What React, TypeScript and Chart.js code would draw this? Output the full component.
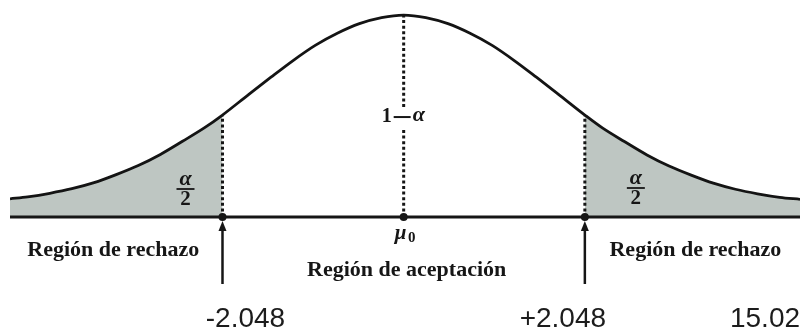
import React, { useEffect, useRef } from "react";
import { Chart, registerables } from "chart.js";

Chart.register(...registerables);

// t values (x) and curve heights (density-like)
const tValues = [
  -4.45, -4.25, -4.0, -3.75, -3.5, -3.25, -3.0, -2.75, -2.5, -2.25, -2.048,
  -1.75, -1.5, -1.25, -1.0, -0.75, -0.5, -0.25, 0, 0.25, 0.5, 0.75, 1.0, 1.25,
  1.5, 1.75, 2.048, 2.25, 2.5, 2.75, 3.0, 3.25, 3.5, 3.75, 4.0, 4.25, 4.48,
];
const densityValues = [
  0.036, 0.04, 0.047, 0.056, 0.068, 0.084, 0.102, 0.124, 0.15, 0.177, 0.202,
  0.243, 0.277, 0.31, 0.34, 0.364, 0.383, 0.395, 0.4, 0.395, 0.383, 0.364,
  0.34, 0.31, 0.277, 0.243, 0.202, 0.176, 0.149, 0.123, 0.101, 0.083, 0.067,
  0.055, 0.046, 0.039, 0.035,
];
const criticalLow = -2.048;
const criticalHigh = 2.048;
const meanValue = 0;
const tickLabels = ["-2.048", "+2.048", "15.02"];
const regionLabels = ["Región de rechazo", "Región de aceptación", "Región de rechazo"];

const points = tValues.map((t, i) => ({ x: t, y: densityValues[i] }));
const leftTail = points.filter((p) => p.x <= criticalLow);
const rightTail = points.filter((p) => p.x >= criticalHigh);

const valueAt = (t: number) => densityValues[tValues.indexOf(t)];

const SERIF = '"Liberation Serif", "DejaVu Serif", serif';
const SANS = '"Liberation Sans", Arial, sans-serif';
const INK = "#161616";

const overlayPlugin = {
  id: "overlay",
  afterDatasetsDraw(chart: any) {
    const { ctx, chartArea } = chart;
    const xs = chart.scales.x;
    const ys = chart.scales.y;
    const y0 = ys.getPixelForValue(0);
    const xL = xs.getPixelForValue(criticalLow);
    const xR = xs.getPixelForValue(criticalHigh);
    const xC = xs.getPixelForValue(meanValue);
    ctx.save();
    ctx.strokeStyle = INK;
    ctx.fillStyle = INK;

    // dotted verticals
    const dotted = (x: number, yTop: number, yBot: number) => {
      ctx.save();
      ctx.setLineDash([3, 2.6]);
      ctx.lineWidth = 3;
      ctx.beginPath();
      ctx.moveTo(x, yBot);
      ctx.lineTo(x, yTop);
      ctx.stroke();
      ctx.restore();
    };
    dotted(xL, ys.getPixelForValue(valueAt(criticalLow)) + 1, y0);
    dotted(xR, ys.getPixelForValue(valueAt(criticalHigh)) + 1, y0);
    const labelY = ys.getPixelForValue(0.2);
    dotted(xC, ys.getPixelForValue(valueAt(meanValue)) + 1, labelY - 9);
    dotted(xC, labelY + 12, y0);

    // baseline
    ctx.lineWidth = 3;
    ctx.beginPath();
    ctx.moveTo(chartArea.left, y0);
    ctx.lineTo(chartArea.right, y0);
    ctx.stroke();

    // dots on baseline
    [xL, xC, xR].forEach((x) => {
      ctx.beginPath();
      ctx.arc(x, y0, 4, 0, Math.PI * 2);
      ctx.fill();
    });

    // arrows
    [xL, xR].forEach((x) => {
      ctx.lineWidth = 2.5;
      ctx.beginPath();
      ctx.moveTo(x, y0 + 67);
      ctx.lineTo(x, y0 + 12);
      ctx.stroke();
      ctx.beginPath();
      ctx.moveTo(x, y0 + 4);
      ctx.lineTo(x - 4, y0 + 14);
      ctx.lineTo(x + 4, y0 + 14);
      ctx.closePath();
      ctx.fill();
    });

    // 1 − α
    ctx.textBaseline = "middle";
    ctx.font = `bold 20px ${SERIF}`;
    ctx.textAlign = "right";
    ctx.fillText("1", xC - 12, labelY + 1);
    ctx.lineWidth = 2;
    ctx.beginPath();
    ctx.moveTo(xC - 10, labelY + 1);
    ctx.lineTo(xC + 7, labelY + 1);
    ctx.stroke();
    ctx.textAlign = "left";
    ctx.font = `italic bold 22px ${SERIF}`;
    ctx.fillText("α", xC + 9, labelY - 1);

    // α/2 fractions
    const fraction = (cx: number, cy: number) => {
      ctx.textAlign = "center";
      ctx.font = `italic bold 22px ${SERIF}`;
      ctx.fillText("α", cx, cy - 10);
      ctx.lineWidth = 1.8;
      ctx.beginPath();
      ctx.moveTo(cx - 9, cy);
      ctx.lineTo(cx + 9, cy);
      ctx.stroke();
      ctx.font = `bold 21px ${SERIF}`;
      ctx.fillText("2", cx, cy + 11);
    };
    fraction(xL - 37, y0 - 28);
    fraction(xR + 51, y0 - 29);

    // μ0
    ctx.textAlign = "center";
    ctx.font = `italic bold 21px ${SERIF}`;
    ctx.fillText("μ", xC - 3, y0 + 17);
    ctx.font = `bold 15px ${SERIF}`;
    ctx.fillText("0", xC + 8, y0 + 21);

    // region labels
    ctx.font = `bold 22px ${SERIF}`;
    ctx.fillText(regionLabels[0], (chartArea.left + xL) / 2 - 3, y0 + 33);
    ctx.fillText(regionLabels[1], xC + 3, y0 + 53);
    ctx.fillText(regionLabels[2], (xR + chartArea.right) / 2 + 3, y0 + 33);

    // value labels
    ctx.font = `28px ${SANS}`;
    ctx.fillStyle = "#1c1c1c";
    ctx.fillText(tickLabels[0], xL + 23, y0 + 102);
    ctx.fillText(tickLabels[1], xR - 22, y0 + 102);
    ctx.fillText(tickLabels[2], chartArea.right - 35, y0 + 102);

    ctx.restore();
  },
};

export default function App() {
  const canvasRef = useRef<HTMLCanvasElement | null>(null);

  useEffect(() => {
    if (!canvasRef.current) return;
    const shade = "rgb(190,198,194)";
    const chart = new Chart(canvasRef.current, {
      type: "line",
      data: {
        datasets: [
          {
            data: points,
            borderColor: "#141414",
            borderWidth: 2.8,
            pointRadius: 0,
            cubicInterpolationMode: "monotone",
            fill: false,
            order: 0,
          },
          {
            data: leftTail,
            borderWidth: 0,
            borderColor: "rgba(0,0,0,0)",
            backgroundColor: shade,
            pointRadius: 0,
            cubicInterpolationMode: "monotone",
            fill: "origin",
            order: 1,
          },
          {
            data: rightTail,
            borderWidth: 0,
            borderColor: "rgba(0,0,0,0)",
            backgroundColor: shade,
            pointRadius: 0,
            cubicInterpolationMode: "monotone",
            fill: "origin",
            order: 1,
          },
        ],
      },
      options: {
        animation: false,
        responsive: false,
        devicePixelRatio: 1,
        layout: { padding: { left: 10, right: 6, top: 5, bottom: 115 } },
        scales: {
          x: { type: "linear", min: -4.45, max: 4.48, display: false },
          y: { min: 0, max: 0.42, display: false },
        },
        plugins: {
          legend: { display: false },
          tooltip: { enabled: false },
        },
      },
      plugins: [overlayPlugin],
    });
    return () => chart.destroy();
  }, []);

  return (
    <div style={{ position: "absolute", left: 0, top: 0, width: 806, height: 332, background: "#fff" }}>
      <canvas ref={canvasRef} width={806} height={332} />
    </div>
  );
}
